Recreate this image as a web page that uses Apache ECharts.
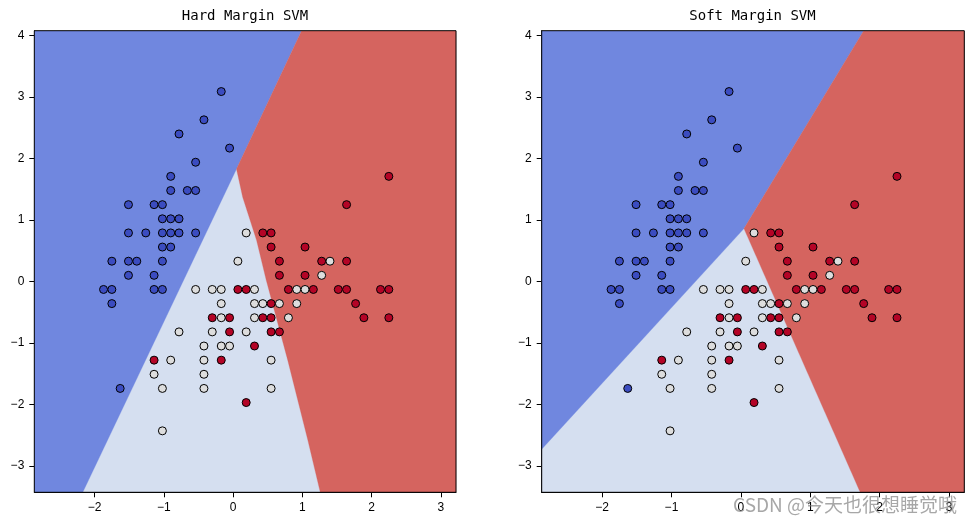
<!DOCTYPE html>
<html><head><meta charset="utf-8">
<script src="https://cdn.jsdelivr.net/npm/echarts@6/dist/echarts.min.js"></script>
<style>html,body{margin:0;padding:0;background:#fff}#c{width:973px;height:524px}</style>
</head><body><div id="c"></div>
<script>
// Standardized Iris features (sepal length, sepal width)
const class0 = [[-0.17,3.09],[-0.42,2.63],[-0.78,2.40],[-0.05,2.17],[-0.54,1.94],[-0.90,1.71],[-0.90,1.48],[-0.66,1.48],[-0.54,1.48],
  [-1.51,1.25],[-1.14,1.25],[-1.02,1.25],[-1.02,1.02],[-0.90,1.02],[-0.78,1.02],[-1.51,0.79],[-1.26,0.79],[-1.02,0.79],[-0.90,0.79],
  [-0.78,0.79],[-0.54,0.79],[-1.02,0.56],[-0.90,0.56],[-1.75,0.33],[-1.51,0.33],[-1.39,0.33],[-1.02,0.33],[-1.51,0.10],[-1.14,0.10],
  [-1.87,-0.13],[-1.75,-0.13],[-1.14,-0.13],[-1.02,-0.13],[-1.75,-0.36],[-1.63,-1.74]];
const class1 = [[0.19,0.79],[0.07,0.33],[1.40,0.33],[1.28,0.10],[-0.54,-0.13],[-0.30,-0.13],[-0.17,-0.13],[0.31,-0.13],[0.92,-0.13],
  [1.04,-0.13],[-0.17,-0.36],[0.31,-0.36],[0.43,-0.36],[0.67,-0.36],[0.92,-0.36],[-0.17,-0.59],[0.31,-0.59],[0.80,-0.59],[-0.78,-0.82],
  [-0.30,-0.82],[0.19,-0.82],[-0.42,-1.05],[-0.17,-1.05],[-0.05,-1.05],[-0.90,-1.28],[-0.42,-1.28],[0.55,-1.28],[-1.14,-1.51],
  [-0.42,-1.51],[-1.02,-1.74],[-0.42,-1.74],[0.55,-1.74],[-1.02,-2.43]];
const class2 = [[2.25,1.71],[1.64,1.25],[0.43,0.79],[0.55,0.79],[0.55,0.56],[1.04,0.56],[0.67,0.33],[1.28,0.33],[1.64,0.33],
  [0.67,0.10],[1.04,0.10],[0.07,-0.13],[0.19,-0.13],[0.80,-0.13],[1.16,-0.13],[1.52,-0.13],[1.64,-0.13],[2.13,-0.13],[2.25,-0.13],
  [0.55,-0.36],[1.77,-0.36],[-0.30,-0.59],[-0.05,-0.59],[0.43,-0.59],[0.55,-0.59],[1.89,-0.59],[2.25,-0.59],[-0.05,-0.82],
  [0.55,-0.82],[0.67,-0.82],[0.31,-1.05],[-1.14,-1.28],[-0.17,-1.28],[0.19,-1.97]];

const xTicks = [-2, -1, 0, 1, 2, 3];
const yTicks = [-3, -2, -1, 0, 1, 2, 3, 4];
const xRange = [-2.87, 3.22];
const yRange = [-3.43, 4.08];
const titles = ['Hard Margin SVM', 'Soft Margin SVM'];
const watermark = 'CSDN @今天也很想睡觉哦';

// decision regions (data coordinates)
const fullRegion = [[-2.87,4.08],[3.22,4.08],[3.22,-3.43],[-2.87,-3.43]];
const hardBlue = [[-2.87,4.08],[0.99,4.08],[0.05,1.83],[-2.17,-3.43],[-2.87,-3.43]];
const hardRed = [[0.99,4.08],[3.22,4.08],[3.22,-3.43],[1.26,-3.43],[1.08,-2.58],[0.79,-1.28],[0.48,0.02],[0.34,0.67],[0.14,1.37],[0.05,1.83]];
const softBlue = [[-2.87,4.08],[1.77,4.08],[0.045,0.86],[-2.87,-2.73]];
const softRed = [[1.77,4.08],[3.22,4.08],[3.22,-3.43],[1.72,-3.43],[0.045,0.86]];

const regionColors = ['#D5DFF0', '#7087DF', '#D5645F'];
const pointColors = ['#3B4CC0', '#DDDDDD', '#B40426'];

const chart = echarts.init(document.getElementById('c'));
const grids = [
  {left: 34.3, top: 30.7, width: 421.7, height: 461.6},
  {left: 541.7, top: 30.7, width: 422.6, height: 461.6}
];
const fmt = v => String(v).replace('-', '\u2212');
const tickFont = {color: '#000', fontSize: 12, fontFamily: 'Liberation Sans'};

function regionSeries(gi, polys) {
  return {
    type: 'custom', xAxisIndex: gi, yAxisIndex: gi, z: 1, silent: true, clip: true,
    data: polys.map(() => [0, 0]),
    renderItem: function (params, api) {
      const poly = polys[params.dataIndex];
      return {type: 'polygon', shape: {points: poly.map(p => api.coord(p))},
        style: {fill: regionColors[params.dataIndex], stroke: regionColors[params.dataIndex], lineWidth: 0.3}};
    }
  };
}
function scatterSeries(gi) {
  return [class0, class1, class2].map((d, k) => ({
    type: 'scatter', xAxisIndex: gi, yAxisIndex: gi, z: 3, silent: true, data: d,
    symbolSize: 8, itemStyle: {color: pointColors[k], borderColor: '#000', borderWidth: 1, opacity: 1}
  }));
}

const option = {
  animation: false,
  backgroundColor: '#fff',
  grid: grids.map(g => Object.assign({show: true, backgroundColor: 'transparent', borderColor: '#000', borderWidth: 1, z: 10}, g)),
  xAxis: grids.map((g, i) => ({
    gridIndex: i, type: 'value', min: xRange[0], max: xRange[1], splitLine: {show: false},
    axisLine: {show: true, onZero: false, lineStyle: {color: '#000'}},
    axisTick: {show: true, length: 5, lineStyle: {color: '#000'}, customValues: xTicks},
    axisLabel: Object.assign({customValues: xTicks, margin: 9, formatter: fmt}, tickFont)
  })),
  yAxis: grids.map((g, i) => ({
    gridIndex: i, type: 'value', min: yRange[0], max: yRange[1], splitLine: {show: false},
    axisLine: {show: true, onZero: false, lineStyle: {color: '#000'}},
    axisTick: {show: true, length: 5, lineStyle: {color: '#000'}, customValues: yTicks},
    axisLabel: Object.assign({customValues: yTicks, margin: 10, formatter: fmt}, tickFont)
  })),
  series: [
    regionSeries(0, [fullRegion, hardBlue, hardRed]),
    regionSeries(1, [fullRegion, softBlue, softRed]),
    ...scatterSeries(0),
    ...scatterSeries(1)
  ],
  graphic: [
    {type: 'text', x: 245, y: 16, z: 20, style: {text: titles[0], fill: '#000', font: '14px "DejaVu Sans Mono"', textAlign: 'center', textVerticalAlign: 'middle'}},
    {type: 'text', x: 752.5, y: 16, z: 20, style: {text: titles[1], fill: '#000', font: '14px "DejaVu Sans Mono"', textAlign: 'center', textVerticalAlign: 'middle'}},
    {type: 'text', x: 957, y: 505, z: 20, style: {text: watermark, fill: 'rgba(130,130,130,0.7)', font: '19px "Noto Sans CJK SC"', textAlign: 'right', textVerticalAlign: 'middle'}}
  ]
};
chart.setOption(option);
</script></body></html>
